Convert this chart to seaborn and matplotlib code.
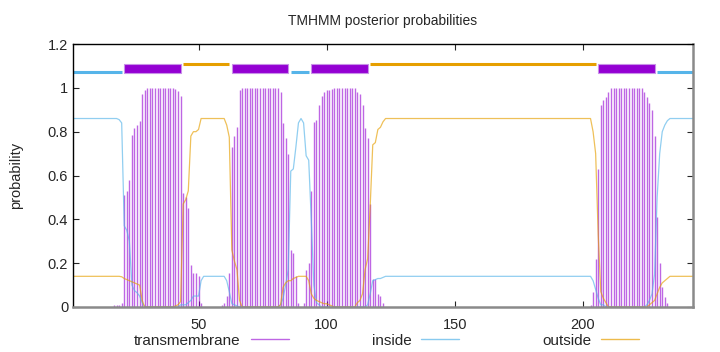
import numpy as np
import pandas as pd
import matplotlib
matplotlib.use("Agg")
import matplotlib.pyplot as plt
import seaborn as sns
from matplotlib.lines import Line2D
from matplotlib.patches import Rectangle

# %%
# posterior probabilities per residue (1..243)
seq_len = 243

tm_prob = (
    [0.0] * 16
    + [0.01, 0.01, 0.01, 0.02, 0.51, 0.53, 0.58, 0.785, 0.815, 0.83, 0.85, 0.97, 0.99]
    + [1.0] * 11
    + [0.995, 0.985, 0.965, 0.52, 0.50, 0.45, 0.19, 0.155, 0.155, 0.14, 0.02]
    + [0.0] * 7
    + [0.01, 0.02, 0.05, 0.155, 0.73, 0.78, 0.82, 0.99]
    + [1.0] * 15
    + [0.98, 0.84, 0.77, 0.70, 0.26, 0.245, 0.14, 0.02, 0.0, 0.02, 0.17, 0.2,
       0.53, 0.845, 0.855, 0.92, 0.965, 0.98, 0.99, 0.99, 0.995]
    + [1.0] * 9
    + [0.98, 0.97, 0.92, 0.815, 0.77, 0.47, 0.13, 0.13, 0.06, 0.05, 0.02]
    + [0.0] * 80
    + [0.01, 0.07, 0.22, 0.63, 0.92, 0.945, 0.96, 0.98]
    + [1.0] * 13
    + [0.98, 0.96, 0.93, 0.90, 0.78, 0.41, 0.2, 0.09, 0.045, 0.02]
    + [0.0] * 10
)

inside_prob = (
    [0.86] * 18
    + [0.855, 0.84, 0.37, 0.35, 0.30, 0.10, 0.075, 0.065, 0.05, 0.02]
    + [0.0] * 14
    + [0.01, 0.01, 0.01, 0.02, 0.03, 0.05, 0.05, 0.05, 0.12]
    + [0.14] * 9
    + [0.12, 0.07, 0.015, 0.01, 0.005]
    + [0.0] * 16
    + [0.01, 0.04, 0.10, 0.17, 0.62, 0.63, 0.73, 0.84, 0.86, 0.84, 0.69, 0.67,
       0.40, 0.10, 0.02, 0.01]
    + [0.0] * 18
    + [0.01, 0.06, 0.12, 0.125, 0.13, 0.13, 0.135]
    + [0.14] * 81
    + [0.12, 0.08, 0.04, 0.01, 0.01]
    + [0.0] * 16
    + [0.01, 0.03, 0.06, 0.15, 0.50, 0.70, 0.80, 0.83, 0.85]
    + [0.86] * 10
)

outside_prob = (
    [0.14] * 19
    + [0.138, 0.13, 0.125, 0.12, 0.115, 0.11, 0.105, 0.10, 0.03]
    + [0.0] * 12
    + [0.005, 0.01, 0.025, 0.47, 0.49, 0.53, 0.78, 0.80, 0.80, 0.81, 0.86]
    + [0.86] * 9
    + [0.83, 0.775, 0.26, 0.21, 0.17, 0.03]
    + [0.0] * 15
    + [0.01, 0.09, 0.11, 0.12, 0.12, 0.13, 0.135, 0.14, 0.14, 0.14, 0.14, 0.12,
       0.06, 0.04, 0.03, 0.025, 0.02, 0.015, 0.015, 0.01, 0.005]
    + [0.0] * 9
    + [0.02, 0.03, 0.06, 0.17, 0.22, 0.46, 0.74, 0.75, 0.81, 0.82, 0.845]
    + [0.86] * 81
    + [0.80, 0.70, 0.33, 0.07, 0.04, 0.02]
    + [0.0] * 16
    + [0.01, 0.02, 0.03, 0.06, 0.09, 0.11, 0.12, 0.13]
    + [0.14] * 10
)

# predicted topology (start, end)
inside_segments = [(1, 20), (86, 93), (229, 243)]
outside_segments = [(44, 62), (117, 205)]
tm_segments = [(21, 43), (63, 85), (94, 116), (206, 228)]

legend_labels = ["transmembrane", "inside", "outside"]
xticks = [50, 100, 150, 200]
yticks = [0, 0.2, 0.4, 0.6, 0.8, 1.0, 1.2]
ytick_labels = ["0", "0.2", "0.4", "0.6", "0.8", "1", "1.2"]

# %%
df = pd.DataFrame(
    {
        "pos": np.arange(1, seq_len + 1),
        "tm": tm_prob,
        "inside": inside_prob,
        "outside": outside_prob,
    }
)

c_tm = "#9400d3"
c_in = "#56b4e9"
c_out = "#e69f00"

sns.set_style("ticks")
plt.rcParams["font.family"] = ["Liberation Sans", "DejaVu Sans"]
plt.rcParams["font.size"] = 10

fig = plt.figure(figsize=(7.2, 3.52), dpi=100)
ax = fig.add_axes([73 / 720, 45 / 352, 620 / 720, 263 / 352])

# impulses for transmembrane
ax.vlines(df["pos"], 0, df["tm"], color=c_tm, lw=1, alpha=0.6)
sns.lineplot(data=df, x="pos", y="inside", ax=ax, color=c_in, lw=0.9, alpha=0.65)
sns.lineplot(data=df, x="pos", y="outside", ax=ax, color=c_out, lw=0.9, alpha=0.65)

# topology bar on top
for s, e in inside_segments:
    ax.hlines(1.07, s, e, color=c_in, lw=2.2)
for s, e in outside_segments:
    ax.hlines(1.11, s, e, color=c_out, lw=2.2)
for s, e in tm_segments:
    ax.add_patch(
        Rectangle((s, 1.066), e - s, 0.044, facecolor=c_tm, edgecolor="#c890e8", lw=0.8)
    )

ax.set_xlim(1, seq_len)
ax.set_ylim(0, 1.2)
ax.set_xticks(xticks)
ax.set_yticks(yticks)
ax.set_yticklabels(ytick_labels)
ax.tick_params(direction="in", top=True, right=True, length=4, width=0.8, labelsize=10.5)
ax.tick_params(axis="x", pad=8)

ax.set_xlabel("")
ax.set_ylabel("probability", fontsize=10.5)
ax.yaxis.set_label_coords(-0.08, 0.5)
ax.set_title("TMHMM posterior probabilities", fontsize=10, pad=14)

for side in ["left", "top"]:
    ax.spines[side].set_color("k")
    ax.spines[side].set_linewidth(1)
for side in ["bottom", "right"]:
    ax.spines[side].set_color("#8a8a8a")
    ax.spines[side].set_linewidth(1.8)

handles = [
    Line2D([], [], color=c_tm, lw=1, alpha=0.6),
    Line2D([], [], color=c_in, lw=1, alpha=0.7),
    Line2D([], [], color=c_out, lw=1, alpha=0.7),
]
ax.legend(
    handles,
    legend_labels,
    loc="center",
    bbox_to_anchor=(0.506, -0.128),
    ncol=3,
    frameon=False,
    markerfirst=False,
    handlelength=2.5,
    handletextpad=0.65,
    columnspacing=5.4,
    borderpad=0,
    fontsize=11,
)

plt.savefig("out.png", dpi=100)
